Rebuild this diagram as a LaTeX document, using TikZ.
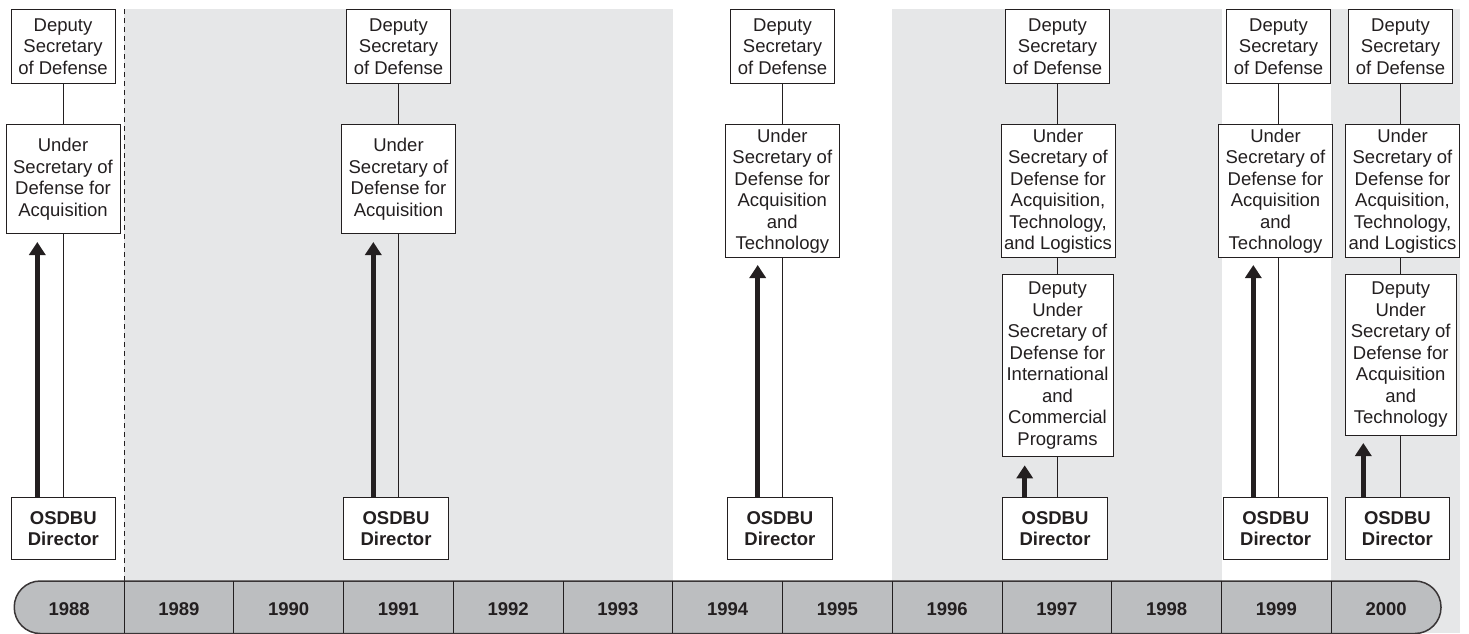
\documentclass[tikz,border=0pt]{standalone}
\usepackage{fontspec}
\setmainfont{Liberation Sans}
\usetikzlibrary{arrows.meta}
\definecolor{band}{HTML}{E6E7E8}
\definecolor{barfill}{HTML}{BCBEC0}
\definecolor{ink}{HTML}{231F20}

\begin{document}
\begin{tikzpicture}[x=1pt, y=-1pt, font=\fontsize{18.5}{21.5}\selectfont,
        every node/.style={text=ink},
        office/.style={draw=ink, fill=white, line width=1pt, align=center, inner sep=0pt, anchor=north},
        dep/.style={office, minimum width=104pt, minimum height=74pt},
        usd/.style={office, minimum width=114pt, minimum height=#1},
        dus/.style={office, minimum width=111pt, minimum height=#1},
        osd/.style={office, minimum width=104.5pt, minimum height=61.5pt, font=\fontsize{18.5}{21}\selectfont\bfseries},
        link/.style={draw=ink, line width=1pt},
        push/.style={draw=ink, line width=5pt, -{Triangle[width=16pt,length=13pt]}},
        yearlabel/.style={font=\fontsize{18.5}{21.5}\selectfont\bfseries}]

        \useasboundingbox (0,0) rectangle (1469,633);

        % shaded periods and the 1988 cut
        \fill[band] (124,9) rectangle (672.75,633);
        \fill[band] (892.25,9) rectangle (1221.5,633);
        \fill[band] (1331.25,9) rectangle (1459.7,633);
        \draw[ink, line width=1pt, dash pattern=on 5pt off 4pt] (124,9) -- (124,581);

        % time line
        \draw[draw=ink!90, fill=barfill, line width=1.5pt, rounded corners=26pt] (14.25,581) rectangle (1441,633.5);
        \foreach \k in {0,...,11}
            \draw[ink, line width=1pt] (124+109.75*\k,581) -- (124+109.75*\k,633);
        \foreach \yr [count=\k from 0] in {1988,...,2000}
            \node[yearlabel] (y\yr) at (69.1+109.75*\k,608.7) {\yr};

        % 1988
        \node[dep] (dep88) at (63,9) {Deputy\\Secretary\\of Defense};
        \node[usd=109pt] (usd88) at (63,124) {Under\\Secretary of\\Defense for\\Acquisition};
        \node[osd] (osd88) at (63.3,497) {OSDBU\\Director};
        \coordinate (tip88) at (37.3,242);
        \draw[link] (dep88.south) -- (dep88.south |- usd88.north);
        \draw[link] (dep88.south |- usd88.south) -- (dep88.south |- osd88.north);
        \draw[push] (osd88.north -| tip88) -- (tip88);

        % 1991
        \node[dep] (dep91) at (398.5,9) {Deputy\\Secretary\\of Defense};
        \node[usd=109pt] (usd91) at (398.5,124) {Under\\Secretary of\\Defense for\\Acquisition};
        \node[osd] (osd91) at (396,497) {OSDBU\\Director};
        \coordinate (tip91) at (373.3,242);
        \draw[link] (dep91.south) -- (dep91.south |- usd91.north);
        \draw[link] (dep91.south |- usd91.south) -- (dep91.south |- osd91.north);
        \draw[push] (osd91.north -| tip91) -- (tip91);

        % 1994
        \node[dep] (dep94) at (782.5,9) {Deputy\\Secretary\\of Defense};
        \node[usd=133pt] (usd94) at (782.3,124) {Under\\Secretary of\\Defense for\\Acquisition\\and\\Technology};
        \node[osd] (osd94) at (779.9,497) {OSDBU\\Director};
        \coordinate (tip94) at (757.7,265);
        \draw[link] (dep94.south) -- (dep94.south |- usd94.north);
        \draw[link] (dep94.south |- usd94.south) -- (dep94.south |- osd94.north);
        \draw[push] (osd94.north -| tip94) -- (tip94);

        % 1997
        \node[dep] (dep97) at (1057.5,9) {Deputy\\Secretary\\of Defense};
        \node[usd=133pt] (usd97) at (1058,124) {Under\\Secretary of\\Defense for\\Acquisition,\\Technology,\\and Logistics};
        \node[dus=182.3pt] (dus97) at (1057.5,274) {Deputy\\Under\\Secretary of\\Defense for\\International\\and\\Commercial\\Programs};
        \node[osd] (osd97) at (1055,497) {OSDBU\\Director};
        \coordinate (tip97) at (1024.7,465.3);
        \draw[link] (dep97.south) -- (dep97.south |- usd97.north);
        \draw[link] (dep97.south |- usd97.south) -- (dep97.south |- dus97.north);
        \draw[link] (dep97.south |- dus97.south) -- (dep97.south |- osd97.north);
        \draw[push] (osd97.north -| tip97) -- (tip97);

        % 1999
        \node[dep] (dep99) at (1278.5,9) {Deputy\\Secretary\\of Defense};
        \node[usd=133pt] (usd99) at (1275.5,124) {Under\\Secretary of\\Defense for\\Acquisition\\and\\Technology};
        \node[osd] (osd99) at (1275.7,497) {OSDBU\\Director};
        \coordinate (tip99) at (1253.3,265);
        \draw[link] (dep99.south) -- (dep99.south |- usd99.north);
        \draw[link] (dep99.south |- usd99.south) -- (dep99.south |- osd99.north);
        \draw[push] (osd99.north -| tip99) -- (tip99);

        % 2000
        \node[dep] (dep00) at (1400.5,9) {Deputy\\Secretary\\of Defense};
        \node[usd=133pt] (usd00) at (1402.5,124) {Under\\Secretary of\\Defense for\\Acquisition,\\Technology,\\and Logistics};
        \node[dus=160.7pt] (dus00) at (1400.7,274) {Deputy\\Under\\Secretary of\\Defense for\\Acquisition\\and\\Technology};
        \node[osd] (osd00) at (1397.4,497) {OSDBU\\Director};
        \coordinate (tip00) at (1363.3,443);
        \draw[link] (dep00.south) -- (dep00.south |- usd00.north);
        \draw[link] (dep00.south |- usd00.south) -- (dep00.south |- dus00.north);
        \draw[link] (dep00.south |- dus00.south) -- (dep00.south |- osd00.north);
        \draw[push] (osd00.north -| tip00) -- (tip00);
\end{tikzpicture}
\end{document}
